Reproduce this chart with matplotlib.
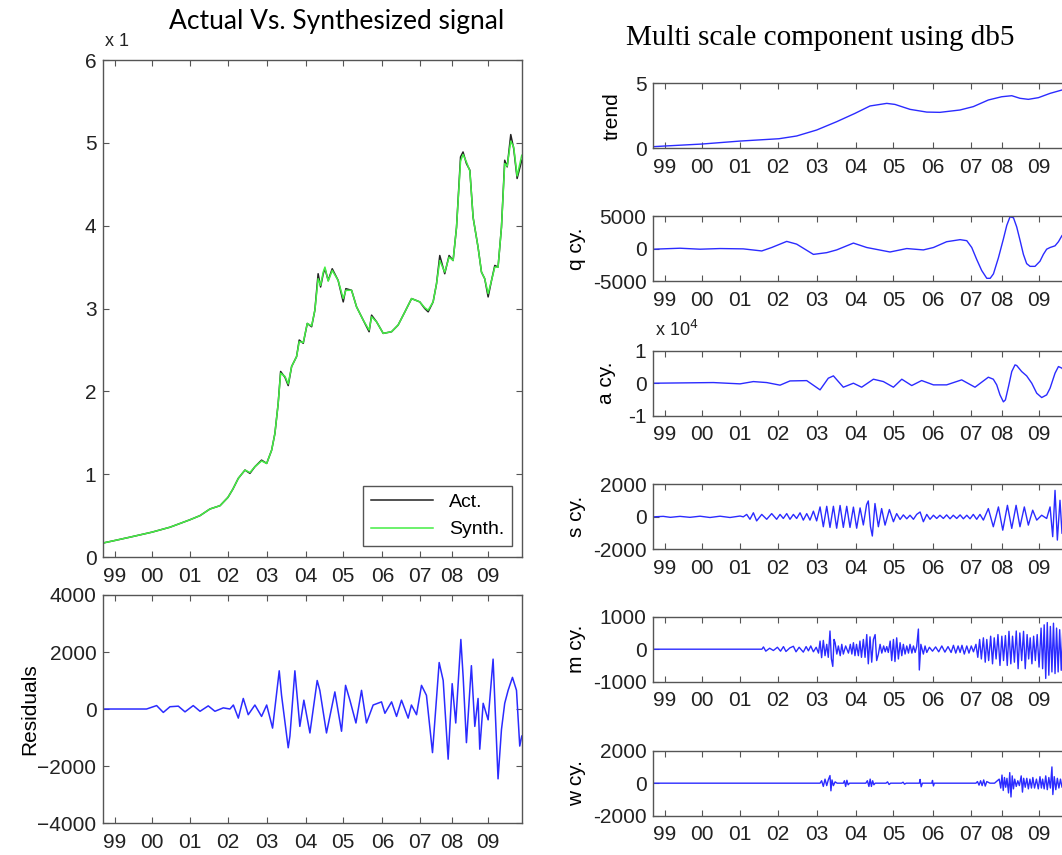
import matplotlib
matplotlib.use("Agg")
import matplotlib.pyplot as plt

plt.rcParams['font.family'] = ['Liberation Sans', 'DejaVu Sans']

# x axis = trading day index, year labels at first trading day of each year
year_ticks = [75, 313, 559, 803, 1056, 1306, 1548, 1801, 2045, 2250, 2484]
year_labels = ['99', '00', '01', '02', '03', '04', '05', '06', '07', '08', '09']
n_days = 2700

# ---- actual vs synthesized (x 1e4) ----
act_x = [0, 75, 172, 313, 430, 559, 624, 688, 753, 804, 836, 871, 914, 946, 978, 1021, 1054, 1086, 1107, 1128,
         1144, 1172, 1193, 1215, 1247, 1264, 1290, 1316, 1344, 1365, 1386, 1402, 1419, 1430, 1451, 1477, 1515, 1548,
         1565, 1602, 1634, 1677, 1715, 1731, 1763, 1806, 1860, 1902, 1946, 1989, 2042, 2074, 2096, 2128, 2150, 2171,
         2203, 2231, 2257, 2279, 2305, 2321, 2343, 2365, 2386, 2418, 2440, 2461, 2483, 2505, 2526, 2547, 2569, 2590,
         2606, 2629, 2648, 2670, 2700]
act_val = [0.17, 0.20, 0.24, 0.30, 0.36, 0.45, 0.50, 0.58, 0.62, 0.72, 0.82, 0.95, 1.05, 1.01, 1.09, 1.17, 1.13, 1.29,
           1.49, 1.85, 2.24, 2.17, 2.07, 2.30, 2.42, 2.62, 2.58, 2.82, 2.78, 2.98, 3.42, 3.26, 3.42, 3.48, 3.34, 3.48,
           3.34, 3.08, 3.24, 3.22, 3.02, 2.86, 2.72, 2.92, 2.84, 2.70, 2.72, 2.80, 2.96, 3.12, 3.08, 3.00, 2.96, 3.08,
           3.30, 3.64, 3.42, 3.64, 3.58, 3.98, 4.83, 4.89, 4.75, 4.67, 4.10, 3.74, 3.44, 3.36, 3.14, 3.34, 3.52, 3.50,
           3.98, 4.79, 4.71, 5.10, 4.93, 4.57, 4.79]
synth_val = [0.17, 0.20, 0.24, 0.30, 0.36, 0.45, 0.50, 0.58, 0.62, 0.72, 0.82, 0.95, 1.05, 1.02, 1.09, 1.16, 1.13, 1.29,
             1.49, 1.85, 2.22, 2.18, 2.09, 2.30, 2.42, 2.60, 2.59, 2.82, 2.79, 2.98, 3.36, 3.28, 3.44, 3.50, 3.33, 3.46,
             3.34, 3.12, 3.22, 3.22, 3.02, 2.86, 2.74, 2.90, 2.84, 2.70, 2.72, 2.80, 2.96, 3.12, 3.08, 3.01, 2.98, 3.08,
             3.30, 3.58, 3.44, 3.62, 3.58, 3.98, 4.78, 4.86, 4.77, 4.66, 4.10, 3.74, 3.44, 3.36, 3.18, 3.34, 3.50, 3.50,
             3.98, 4.75, 4.72, 5.02, 4.95, 4.60, 4.85]

# ---- residuals ----
res_x = [0, 279, 344, 387, 430, 484, 527, 580, 624, 677, 720, 774, 817, 839, 871, 903, 935, 978, 1021, 1054, 1092,
         1135, 1150, 1193, 1204, 1236, 1268, 1294, 1333, 1380, 1397, 1440, 1494, 1537, 1563, 1591, 1630, 1666, 1698,
         1741, 1795, 1817, 1860, 1892, 1924, 1967, 1988, 2021, 2053, 2085, 2124, 2167, 2193, 2225, 2251, 2274, 2307,
         2322, 2343, 2375, 2397, 2418, 2429, 2451, 2483, 2515, 2547, 2569, 2590, 2612, 2640, 2666, 2687, 2700]
res_val = [0, 0, 120, -120, 80, 100, -100, 120, -80, 110, -80, 40, 0, 140, -320, 370, -200, 140, -260, 140, -670,
           1340, 480, -1360, -950, 1340, -610, 310, -840, 1000, 655, -840, 600, -780, 830, 310, -490, 655, -490,
           140, 250, -150, 250, -260, 310, -320, 140, -200, 830, 480, -1530, 1630, 1000, -1760, 890, -490, 2440,
           1110, -1180, 1520, -610, 370, -1410, 200, -380, 1750, -2450, -720, 200, 655, 1110, 655, -1300, -950]

# ---- multi scale components ----
trend_x = [0, 75, 312, 559, 810, 924, 1053, 1182, 1300, 1397, 1505, 1558, 1655, 1763, 1848, 1977, 2063, 2160, 2246,
           2311, 2364, 2418, 2483, 2558, 2635, 2700]
trend_val = [0.13, 0.18, 0.33, 0.56, 0.74, 0.95, 1.41, 2.05, 2.69, 3.26, 3.46, 3.38, 3.00, 2.79, 2.77, 2.95, 3.21,
             3.72, 3.97, 4.05, 3.85, 3.77, 3.90, 4.23, 4.49, 4.65]

q_x = [0, 172, 301, 430, 580, 699, 763, 860, 924, 1032, 1118, 1182, 1290, 1376, 1526, 1634, 1741, 1806, 1891, 1978,
       2021, 2053, 2085, 2117, 2150, 2172, 2193, 2225, 2257, 2279, 2300, 2322, 2343, 2365, 2386, 2407, 2429, 2461,
       2493, 2515, 2536, 2558, 2590, 2612, 2635, 2700]
q_val = [-100, 50, -100, 0, -50, -370, 160, 1100, 680, -900, -630, -210, 840, 160, -530, 0, -210, 160, 1050, 1370,
         1210, 160, -1680, -3370, -4580, -4580, -3890, -1420, 1470, 3580, 4890, 4740, 3320, 1210, -890, -2320, -2740,
         -2740, -1950, -890, -100, 160, 420, 1050, 2000, 3500]

a_x = [0, 387, 559, 645, 731, 817, 881, 989, 1075, 1128, 1161, 1225, 1290, 1343, 1419, 1483, 1548, 1602, 1666, 1730,
       1806, 1891, 1988, 2074, 2160, 2192, 2214, 2235, 2257, 2270, 2290, 2311, 2332, 2343, 2375, 2407, 2440, 2472,
       2504, 2536, 2558, 2590, 2612, 2635, 2700]
a_val = [0, 200, -200, 500, 200, -600, 700, 800, -2050, 1540, 2260, -1230, 0, -1230, 1230, 510, -1230, 1230, -720,
         820, -510, -510, 1030, -1230, 1850, 1230, -510, -3590, -5740, -5130, -1030, 3590, 5640, 5440, 3590, 2260, 0,
         -3080, -4410, -3590, -1540, 3080, 5130, 4620, 0]

s_x = [0, 64, 110, 172, 236, 301, 365, 430, 494, 559, 580, 602, 623, 645, 666, 699, 731, 763, 795, 817, 838, 860,
       881, 903, 924, 946, 967, 989, 1010, 1032, 1053, 1075, 1096, 1118, 1139, 1161, 1182, 1204, 1225, 1247, 1268,
       1290, 1311, 1333, 1354, 1375, 1386, 1400, 1412, 1429, 1451, 1472, 1494, 1522, 1548, 1569, 1591, 1612, 1634,
       1655, 1677, 1698, 1720, 1741, 1763, 1784, 1806, 1827, 1848, 1870, 1891, 1913, 1934, 1956, 1978, 1999, 2021,
       2042, 2063, 2085, 2106, 2128, 2160, 2192, 2225, 2253, 2283, 2311, 2339, 2364, 2392, 2418, 2446, 2472, 2504,
       2536, 2558, 2575, 2590, 2605, 2622, 2635, 2660, 2700]
s_val = [0, 30, -30, 30, -30, 40, -40, 40, -40, 50, 0, 150, -150, 250, -250, 150, -150, 200, -150, 150, -100, 200,
         -150, 150, -100, 250, -200, 200, -200, 350, -250, 610, -610, 650, -650, 650, -700, 700, -650, 650, -650,
         600, -700, 550, -500, 750, 980, -600, -1180, 820, -610, 510, -510, 450, -300, 200, -160, 120, -120, 100,
         -150, 150, 300, -300, 150, -150, 100, -100, 100, -100, 120, -120, 100, -100, 120, -120, 100, -120, 150, -150,
         150, -200, 510, -610, 610, -820, 710, -710, 710, -610, 610, -510, 410, -200, 100, -100, 610, -1220, 1630,
         -1430, 1020, -1020, 800, -500]

m_x = [0, 700, 710, 725, 750, 774, 800, 820, 839, 855, 880, 903, 920, 940, 967, 985, 1000, 1015, 1032, 1050, 1065,
       1075, 1085, 1096, 1107, 1118, 1128, 1139, 1148, 1157, 1165, 1172, 1183, 1193, 1205, 1215, 1225, 1240, 1258,
       1270, 1280, 1290, 1300, 1310, 1322, 1332, 1342, 1354, 1365, 1376, 1386, 1397, 1408, 1419, 1430, 1440, 1451,
       1462, 1473, 1485, 1495, 1505, 1515, 1527, 1537, 1548, 1558, 1569, 1580, 1591, 1602, 1612, 1623, 1634, 1645,
       1655, 1667, 1677, 1688, 1698, 1709, 1715, 1725, 1741, 1752, 1763, 1780, 1800, 1820, 1840, 1860, 1880, 1900,
       1920, 1935, 1950, 1965, 1978, 1990, 2005, 2021, 2035, 2050, 2064, 2080, 2092, 2104, 2115, 2128, 2140, 2150,
       2162, 2175, 2187, 2198, 2210, 2222, 2235, 2247, 2258, 2270, 2282, 2293, 2305, 2316, 2328, 2340, 2352, 2363,
       2375, 2387, 2398, 2410, 2420, 2430, 2441, 2452, 2463, 2475, 2487, 2500, 2510, 2520, 2530, 2540, 2550, 2560,
       2570, 2580, 2590, 2600, 2610, 2620, 2630, 2640, 2655, 2670, 2685, 2700]
m_val = [0, 0, 70, -60, 30, -40, 60, -60, 80, -70, 40, 90, -80, 60, -90, 80, -50, 100, -80, 60, -120, 250, -260,
         270, -200, 150, -250, 560, -300, -530, 300, 200, -150, 100, -200, 150, -150, 100, -120, 150, -150, 200,
         -200, 150, -200, 250, -250, 300, -250, 450, -450, 380, -400, 300, 450, -350, -150, 150, -120, 100, -80,
         80, -100, 250, -350, 300, -380, 350, -300, 200, -200, 150, -150, 100, -120, 150, -120, 100, -100, 80,
         620, -640, 150, -150, 100, -100, 60, -60, 70, -80, 100, -90, 80, -100, 120, -120, 100, -100, 120, -150,
         100, -120, 100, -80, 150, -250, 300, -300, 350, -400, 300, -350, 400, -450, 350, -300, 450, -500, 400,
         -350, 420, -500, 550, -450, 400, -400, 560, -600, 500, -350, 550, -600, 450, -300, 350, -450, 400, -350,
         450, -550, 650, -600, 750, -900, 820, -800, 700, -700, 800, -750, 650, -700, 600, -650, 600, -600, 550,
         -550, 0]

w_x = [0, 1075, 1085, 1096, 1107, 1118, 1128, 1139, 1145, 1152, 1161, 1172, 1185, 1225, 1232, 1240, 1248, 1256,
       1265, 1370, 1380, 1390, 1398, 1406, 1414, 1422, 1430, 1500, 1510, 1520, 1530, 1600, 1610, 1620, 1630, 1715,
       1720, 1727, 1735, 1795, 1800, 1806, 1812, 2080, 2090, 2100, 2110, 2120, 2130, 2140, 2150, 2170, 2200, 2230,
       2240, 2248, 2256, 2264, 2272, 2280, 2290, 2298, 2306, 2314, 2322, 2330, 2340, 2350, 2360, 2372, 2380, 2388,
       2398, 2408, 2418, 2428, 2438, 2447, 2458, 2470, 2482, 2493, 2502, 2510, 2520, 2530, 2540, 2550, 2560, 2570,
       2576, 2585, 2595, 2605, 2615, 2625, 2635, 2650, 2670, 2700]
w_val = [0, 0, 150, -200, 250, -150, 200, 470, -470, 200, -150, 80, 0, 0, 150, -200, 180, -100, 0, 0, 150, -200,
         250, -200, 150, -100, 0, 0, 80, -80, 0, 0, 60, -60, 0, 0, 230, -220, 0, 0, 170, -170, 0, 0, 100, -120, 150,
         -150, 200, -180, 100, 0, 0, 250, -300, 500, -450, 350, -250, 300, -600, 650, -850, 450, -350, 250, -200,
         150, -150, 450, -550, 300, -250, 300, -350, 250, -300, 350, -300, 250, -350, 400, -300, 250, -350, 450,
         -400, 350, -300, 1000, -700, 400, -400, 300, -300, 250, -250, 200, -200, 0]

blue = '#2b2bff'
frame = '#555555'


def style_axes(ax):
    for sp in ax.spines.values():
        sp.set_color(frame)
        sp.set_linewidth(1.0)
    ax.tick_params(direction='in', top=True, right=True, length=4, width=0.8, color=frame,
                   labelsize=15, labelcolor='#222222')
    ax.tick_params(axis='x', pad=7)
    ax.tick_params(axis='y', pad=5)
    ax.set_xlim(0, n_days)
    ax.set_xticks(year_ticks)
    ax.set_xticklabels(year_labels)


fig = plt.figure(figsize=(10.62, 8.55), dpi=100)

# left: signal
ax1 = fig.add_axes([0.0973, 0.3485, 0.394, 0.5813])
ax1.plot(act_x, act_val, color='#222222', lw=1.1, label='Act.')
ax1.plot(act_x, synth_val, color='#44ee44', lw=1.1, label='Synth.')
style_axes(ax1)
ax1.set_ylim(0, 6)
ax1.set_yticks([0, 1, 2, 3, 4, 5, 6])
leg = ax1.legend(loc='lower right', bbox_to_anchor=(0.976, 0.022), fontsize=14, fancybox=False,
                 edgecolor=frame, handlelength=3.2, borderaxespad=0, framealpha=1)
leg.get_frame().set_linewidth(1.0)
fig.text(105 / 1062, 1 - 42 / 855, 'x 1', fontsize=13, color='#222222', va='center')
fig.text(337 / 1062, 1 - 22 / 855, 'Actual Vs. Synthesized signal', fontsize=19,
         family=['Lato', 'DejaVu Sans'], ha='center', va='center')

# left: residuals
ax2 = fig.add_axes([0.0973, 0.0374, 0.394, 0.2667])
ax2.plot(res_x, res_val, color=blue, lw=1.1)
style_axes(ax2)
ax2.set_ylim(-4000, 4000)
ax2.set_yticks([-4000, -2000, 0, 2000, 4000])
ax2.set_ylabel('Residuals', fontsize=15)
ax2.yaxis.set_label_coords(-0.152, 0.5)

# right column
comps = [
    ('trend', trend_x, trend_val, 0.8265, (0, 5), [0, 5], ['0', '5'], -0.075),
    ('q cy.', q_x, q_val, 0.6713, (-5000, 5000), [-5000, 0, 5000], ['-5000', '0', '5000'], -0.16),
    ('a cy.', a_x, a_val, 0.5138, (-10000, 10000), [-10000, 0, 10000], ['-1', '0', '1'], -0.088),
    ('s cy.', s_x, s_val, 0.3575, (-2000, 2000), [-2000, 0, 2000], ['-2000', '0', '2000'], -0.16),
    ('m cy.', m_x, m_val, 0.2027, (-1000, 1000), [-1000, 0, 1000], ['-1000', '0', '1000'], -0.16),
    ('w cy.', w_x, w_val, 0.0460, (-2000, 2000), [-2000, 0, 2000], ['-2000', '0', '2000'], -0.16),
]
for name, xs, ys, bottom, lim, ticks, labels, lx in comps:
    ax = fig.add_axes([0.6152, bottom, 0.3943, 0.076])
    ax.plot(xs, ys, color=blue, lw=1.0)
    style_axes(ax)
    ax.set_ylim(*lim)
    ax.set_yticks(ticks)
    ax.set_yticklabels(labels)
    ax.set_ylabel(name, fontsize=15)
    ax.yaxis.set_label_coords(lx, 0.5)

fig.text(655 / 1062, 1 - 330 / 855, r'x 10$^4$', fontsize=13, color='#222222', va='center')
fig.text(820 / 1062, 1 - 38 / 855, 'Multi scale component using db5', fontsize=21,
         family=['Liberation Serif', 'DejaVu Serif'], ha='center', va='center')

fig.savefig('out.png', dpi=100)
